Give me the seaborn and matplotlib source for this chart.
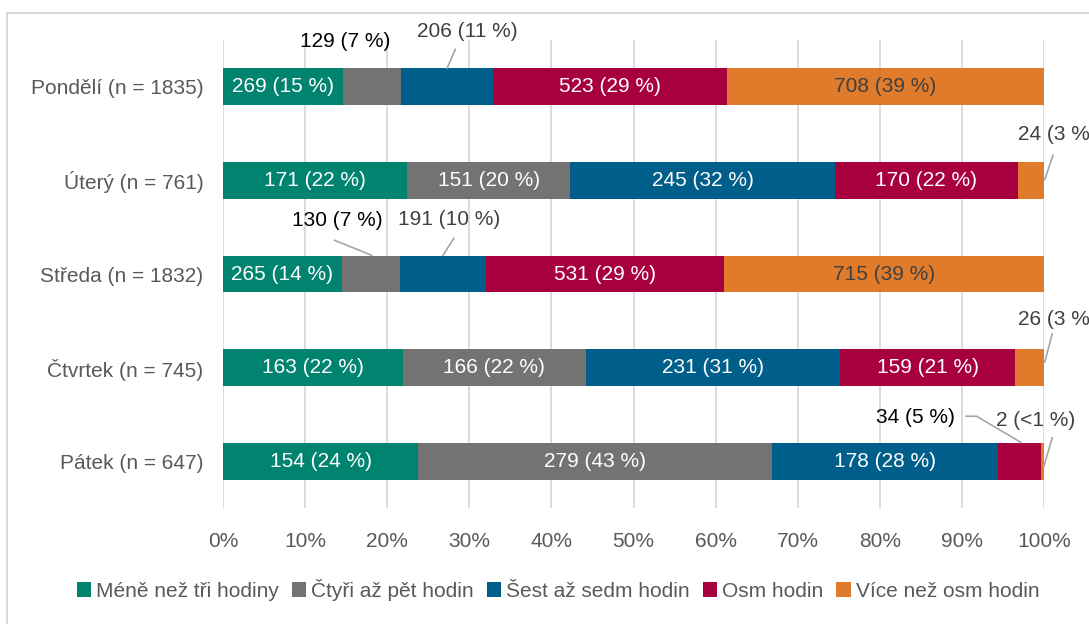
import matplotlib
matplotlib.use("Agg")
import matplotlib.pyplot as plt
from matplotlib.lines import Line2D
from matplotlib.patches import Patch
import seaborn as sns
import pandas as pd

# data
days = ["Pondělí (n = 1835)", "Úterý (n = 761)", "Středa (n = 1832)",
        "Čtvrtek (n = 745)", "Pátek (n = 647)"]
categories = ["Méně než tři hodiny", "Čtyři až pět hodin", "Šest až sedm hodin",
              "Osm hodin", "Více než osm hodin"]
mene_nez_tri = [269, 171, 265, 163, 154]
ctyri_az_pet = [129, 151, 130, 166, 279]
sest_az_sedm = [206, 245, 191, 231, 178]
osm = [523, 170, 531, 159, 34]
vice_nez_osm = [708, 24, 715, 26, 2]
pct_labels = [
    ["15 %", "22 %", "14 %", "22 %", "24 %"],
    ["7 %", "20 %", "7 %", "22 %", "43 %"],
    ["11 %", "32 %", "10 %", "31 %", "28 %"],
    ["29 %", "22 %", "29 %", "21 %", "5 %"],
    ["39 %", "3 %", "39 %", "3 %", "<1 %"],
]
tick_labels = [f"{v}%" for v in range(0, 101, 10)]

colors = ["#00846F", "#737373", "#005F8A", "#A8003F", "#E07B2B"]
inside_text = ["white", "white", "white", "white", "#404040"]
FS = 15

series = [mene_nez_tri, ctyri_az_pet, sest_az_sedm, osm, vice_nez_osm]
totals = [sum(s[i] for s in series) for i in range(len(days))]

rows = []
for c, vals in zip(categories, series):
    for d, v, t in zip(days, vals, totals):
        rows.append({"day": d, "category": c, "count": v, "share": v / t})
df = pd.DataFrame(rows)
df["cum"] = df.groupby("day", sort=False)["share"].cumsum()
df["start"] = df["cum"] - df["share"]

plt.rcParams["font.family"] = ["Liberation Sans", "DejaVu Sans"]
fig = plt.figure(figsize=(10.89, 6.24), dpi=100)
ax = fig.add_axes([223 / 1089, 1 - 508 / 624, (1044 - 223) / 1089, (508 - 40) / 624])

# stacked bars: draw cumulative totals from the last category back
for c, col in reversed(list(zip(categories, colors))):
    sub = df[df["category"] == c]
    sns.barplot(data=sub, x="cum", y="day", order=days, orient="h", color=col,
                width=0.395, saturation=1, ax=ax, zorder=3)

ax.set_xlim(0, 1)
ax.set_xticks([i / 10 for i in range(11)])
ax.set_xticklabels(tick_labels)
ax.grid(axis="x", color="#D9D9D9", lw=1.3, zorder=0)
ax.set_axisbelow(True)
for s in ax.spines.values():
    s.set_visible(False)
ax.tick_params(length=0, labelsize=FS, colors="#595959")
ax.tick_params(axis="y", pad=14)
ax.tick_params(axis="x", pad=17)
ax.set_xlabel("")
ax.set_ylabel("")

# labels inside the bars (small ones placed outside with leader lines)
outside = {
    (0, 1): ((0.149, -0.48), None, "black"),
    (0, 2): ((0.297, -0.59), [(0.283, -0.40), (0.273, -0.20)], "#404040"),
    (1, 4): ((1.016, 0.51), [(1.011, 0.73), (1.001, 0.99)], "#404040"),
    (2, 1): ((0.139, 1.43), [(0.136, 1.64), (0.181, 1.80)], "black"),
    (2, 2): ((0.275, 1.42), [(0.281, 1.62), (0.268, 1.80)], "#404040"),
    (3, 4): ((1.016, 2.49), [(1.010, 2.64), (1.001, 2.94)], "#404040"),
    (4, 3): ((0.844, 3.53), [(0.905, 3.52), (0.918, 3.52), (0.972, 3.80)], "black"),
    (4, 4): ((0.99, 3.57), [(1.010, 3.75), (1.000, 4.05)], "#404040"),
}
for ci, c in enumerate(categories):
    sub = df[df["category"] == c].reset_index(drop=True)
    for di in range(len(days)):
        r = sub.iloc[di]
        txt = f"{r['count']} ({pct_labels[ci][di]})"
        if (di, ci) in outside:
            (tx, ty), leader, tc = outside[(di, ci)]
            ax.text(tx, ty, txt, ha="center", va="center", fontsize=FS,
                    color=tc, zorder=5, clip_on=False)
            if leader:
                ax.add_line(Line2D([p[0] for p in leader], [p[1] for p in leader],
                                   color="#A6A6A6", lw=1.2, zorder=4, clip_on=False))
        else:
            ax.text(r["start"] + r["share"] / 2, di, txt, ha="center", va="center",
                    fontsize=FS, color=inside_text[ci], zorder=5)

handles = [Patch(facecolor=col, label=c) for c, col in zip(categories, colors)]
fig.legend(handles=handles, loc="center", bbox_to_anchor=(558 / 1089, 1 - 590 / 624),
           ncol=5, frameon=False, fontsize=FS, handlelength=0.7, handleheight=0.7,
           handletextpad=0.25, columnspacing=0.6, labelcolor="#595959")

# chart frame (partly cut off)
fig.add_artist(Line2D([6.5 / 1089, 6.5 / 1089], [0, 1 - 12.5 / 624],
                      transform=fig.transFigure, color="#D9D9D9", lw=1.5))
fig.add_artist(Line2D([6.5 / 1089, 1], [1 - 12.5 / 624, 1 - 12.5 / 624],
                      transform=fig.transFigure, color="#D9D9D9", lw=1.5))

fig.savefig("out.png", dpi=100)
